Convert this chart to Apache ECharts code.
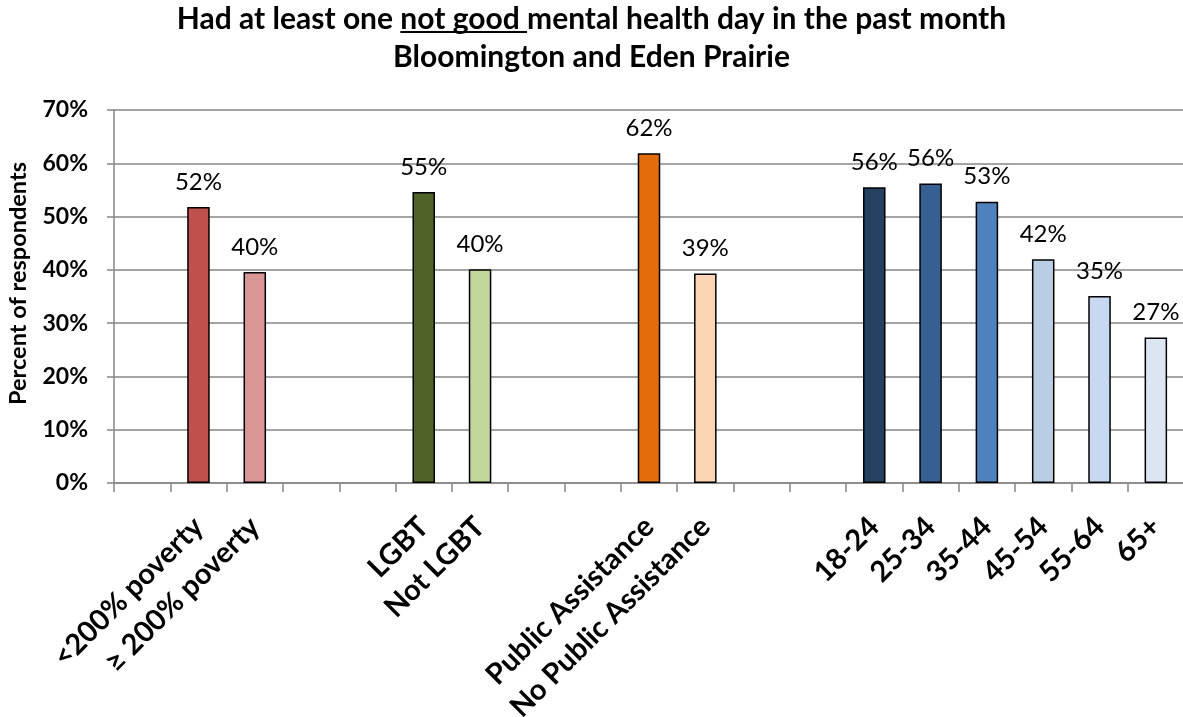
<!DOCTYPE html>
<html>
<head>
<meta charset="utf-8">
<script src="https://cdn.jsdelivr.net/npm/echarts@6/dist/echarts.min.js"></script>
<style>html,body{margin:0;padding:0;background:#fff}#c{width:1183px;height:717px}</style>
</head>
<body>
<div id="c"></div>
<script>
const categories = ['', '<200% poverty', '≥ 200% poverty', '', '', 'LGBT', 'Not LGBT', '', '', 'Public Assistance', 'No Public Assistance', '', '', '18-24', '25-34', '35-44', '45-54', '55-64', '65+'];
const values = [null, 51.8, 39.6, null, null, 54.6, 40.1, null, null, 61.9, 39.3, null, null, 55.5, 56.2, 52.8, 42.0, 35.1, 27.3];
const barColors = [null, '#C0504D', '#D99694', null, null, '#4F6228', '#C3D69B', null, null, '#E46C0A', '#FCD5B5', null, null, '#254061', '#376092', '#4F81BD', '#B9CDE5', '#C6D9F1', '#DCE6F2'];
const yTicks = [0, 10, 20, 30, 40, 50, 60, 70];
const titleLine1 = ['Had at least one ', 'not good ', 'mental health day in the past month'];
const titleLine2 = 'Bloomington and Eden Prairie';

const FONT = 'Lato, "Open Sans", sans-serif';
const TITLE_SIZE = 30;
const chart = echarts.init(document.getElementById('c'));

// measure for underline
const cv = document.createElement('canvas').getContext('2d');
cv.font = 'bold ' + TITLE_SIZE + 'px ' + FONT;
const wPre = cv.measureText(titleLine1[0]).width;
const wU = cv.measureText(titleLine1[1]).width;
const wAll = cv.measureText(titleLine1.join('')).width;
const x0 = 1183 / 2 - wAll / 2 + wPre;

chart.setOption({
  animation: false,
  title: {
    text: titleLine1.join('') + '\n' + titleLine2,
    left: 'center',
    top: 1,
    padding: 0,
    textStyle: { fontFamily: FONT, fontWeight: 'bold', fontSize: TITLE_SIZE, lineHeight: 37.5, color: '#000' }
  },
  graphic: [{
    type: 'line',
    shape: { x1: x0, y1: 32, x2: x0 + wU, y2: 32 },
    style: { stroke: '#000', lineWidth: 2 }
  }],
  grid: { left: 114, top: 110, width: 1070, bottom: 234, containLabel: false, outerBoundsMode: 'none' },
  xAxis: {
    type: 'category',
    data: categories,
    boundaryGap: true,
    axisLine: { lineStyle: { color: '#868686', width: 1.5 } },
    axisTick: { show: true, interval: 0, length: 9, lineStyle: { color: '#868686', width: 1.5 } },
    axisLabel: {
      interval: 0, rotate: 45, margin: 39,
      fontFamily: FONT, fontWeight: 'bold', fontSize: 29, color: '#000',
      padding: [20, 0, 0, 0]
    }
  },
  yAxis: {
    type: 'value',
    min: 0, max: 70, interval: 10,
    name: 'Percent of respondents',
    nameLocation: 'middle',
    nameGap: 84,
    nameMoveOverlap: false,
    nameRotate: 90,
    nameTextStyle: { fontFamily: FONT, fontWeight: 'bold', fontSize: 23.5, color: '#000', padding: [0, 0, 0, 26] },
    axisLine: { show: true, lineStyle: { color: '#868686', width: 1.5 } },
    axisTick: { show: true, length: 7, lineStyle: { color: '#868686', width: 1.5 } },
    splitLine: { lineStyle: { color: '#868686', width: 1.5 } },
    axisLabel: {
      margin: 26, fontFamily: FONT, fontWeight: 'bold', fontSize: 23, color: '#000',
      formatter: v => yTicks.includes(v) ? v + '%' : ''
    }
  },
  series: [{
    type: 'bar',
    barWidth: '40%',
    data: values.map((v, i) => v == null ? null : {
      value: v,
      itemStyle: { color: barColors[i], borderColor: '#000', borderWidth: 1.5 }
    }),
    label: {
      show: true, position: 'top', distance: 13,
      fontFamily: FONT, fontSize: 24, color: '#000',
      formatter: p => Math.round(p.value) + '%'
    }
  }]
});
</script>
</body>
</html>
